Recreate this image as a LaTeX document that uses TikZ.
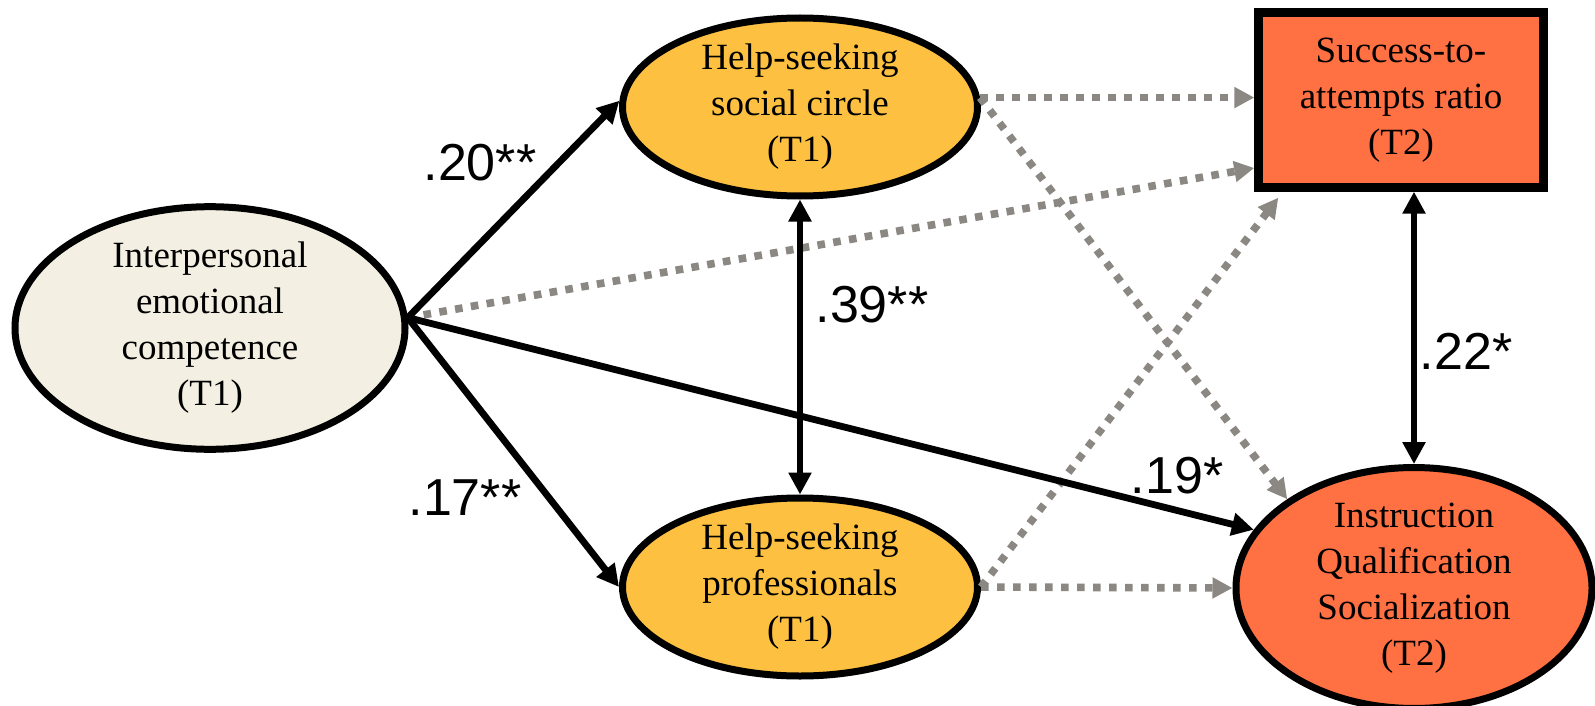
\documentclass[tikz,border=0pt]{standalone}
\usepackage{fontspec}
\setmainfont{Liberation Serif}
\setsansfont{Liberation Sans}
\usetikzlibrary{shapes.geometric,arrows.meta,positioning,calc}

\definecolor{creamfill}{HTML}{F3EFE2}
\definecolor{helpfill}{HTML}{FDC040}
\definecolor{outfill}{HTML}{FF7043}
\definecolor{nullgray}{HTML}{8B8782}

\tikzstyle{latent} = [draw, ellipse, line width=3.5pt, align=center, inner sep=0pt, font=\fontsize{18.5}{23}\selectfont]
\tikzstyle{observed} = [draw, rectangle, line width=4.2pt, align=center, inner sep=0pt, font=\fontsize{18.5}{23}\selectfont]
\tikzstyle{effect} = [draw, line width=3.4pt, -{Triangle[length=11pt,width=11pt]}]
\tikzstyle{corr} = [draw, line width=3.4pt, {Triangle[length=11pt,width=11pt]}-{Triangle[length=11pt,width=11pt]}]
\tikzstyle{nulleffect} = [draw=nullgray, line width=3.8pt, dash pattern=on 3.8pt off 4.2pt, -{Triangle[length=10pt,width=10pt,fill=nullgray]}]
\tikzstyle{coef} = [font=\sffamily\fontsize{26}{30}\selectfont, inner sep=0pt]

\begin{document}
\begin{tikzpicture}[x=0.5pt, y=-0.5pt]
    \fill[white] (0,0) rectangle (1595,706);
    \useasboundingbox (0,0) rectangle (1595,706);

    % variables
    \node [latent, fill=creamfill, minimum width=195pt, minimum height=118pt] (iec) at (210,328) {Interpersonal\\emotional\\competence\\(T1)};
    \node [latent, fill=helpfill, minimum width=177.5pt, minimum height=89pt] (hssc) at (800,107) {Help-seeking\\social circle\\(T1)};
    \node [latent, fill=helpfill, minimum width=177.5pt, minimum height=89pt] (hsp) at (800,587) {Help-seeking\\professionals\\(T1)};
    \node [observed, fill=outfill, minimum width=142.5pt, minimum height=87.5pt] (ratio) at (1401,100) {Success-to-\\attempts ratio\\(T2)};
    \node [latent, fill=outfill, minimum width=178pt, minimum height=113.5pt] (iqs) at (1414,588) {Instruction\\Qualification\\Socialization\\(T2)};

    % non-significant paths
    \path [nulleffect] (iec.3) -- ([yshift=-34pt]ratio.west);
    \path [nulleffect] (hssc.3) -- (ratio.west |- hssc.3);
    \path [nulleffect] (hssc.3) -- (iqs.145);
    \path [nulleffect] (hsp.east) -- ([xshift=12pt,yshift=-3pt]ratio.south west);
    \path [nulleffect] (hsp.east) -- (iqs.west);

    % significant paths
    \path [effect] (iec.3) -- (hssc.178);
    \path [effect] (iec.3) -- (hsp.west);
    \path [effect] (iec.3) -- (iqs.160);
    \path [corr] (hssc.south) -- (hsp.north);
    \path [corr] (iqs.north |- ratio.south) -- (iqs.north);

    % coefficients
    \node [coef] (c1) at (480,163) {.20**};
    \node [coef] (c2) at (872,305) {.39**};
    \node [coef] (c3) at (465,498) {.17**};
    \node [coef] (c4) at (1177,476) {.19*};
    \node [coef] (c5) at (1466,351) {.22*};
\end{tikzpicture}
\end{document}
